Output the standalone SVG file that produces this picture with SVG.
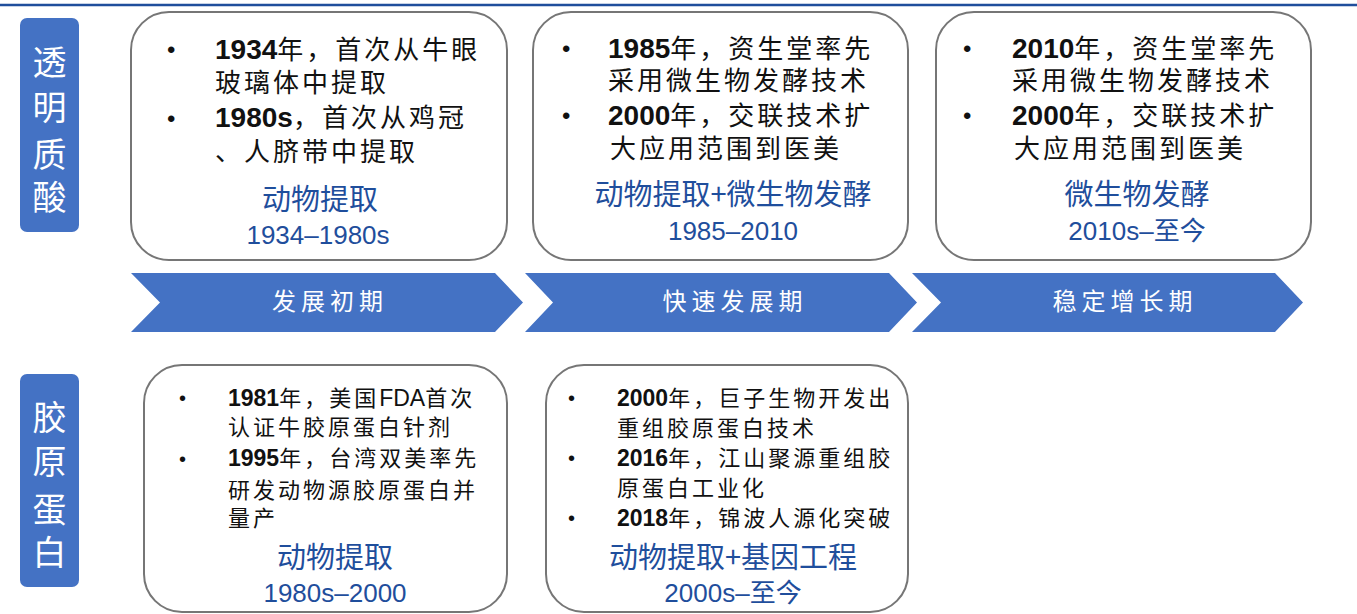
<svg xmlns="http://www.w3.org/2000/svg" width="1357" height="614" viewBox="0 0 1357 614">
<style>
.card{fill:#fff;stroke:#767676;stroke-width:2}
.lbl{fill:#4472c4}
.lt{font-family:"Noto Sans CJK SC","Noto Sans",sans-serif;font-size:34px;fill:#fff;text-anchor:middle}
.chev{fill:#4472c4}
.ct{font-family:"Noto Sans CJK SC",sans-serif;font-size:24px;fill:#fff;text-anchor:middle;letter-spacing:5px}
.t1{font-family:"Noto Sans CJK SC","Liberation Sans",sans-serif;font-size:26px;fill:#111;letter-spacing:3px}
.t2{font-family:"Noto Sans CJK SC","Liberation Sans",sans-serif;font-size:22px;fill:#111;letter-spacing:3px}
.n{font-family:"Liberation Sans",Arial,sans-serif;font-weight:bold;letter-spacing:0}
.s{font-family:"Liberation Sans",Arial,sans-serif;letter-spacing:0}
.b{font-family:"Liberation Sans",Arial,sans-serif;fill:#111}
.bl{font-family:"Noto Sans CJK SC","Liberation Sans",sans-serif;font-size:29px;fill:#1f4e9c;text-anchor:middle}
.by{font-family:"Liberation Sans","Noto Sans CJK SC",sans-serif;font-size:26px;fill:#1f4e9c;text-anchor:middle}
</style>
<line x1="0" y1="5" x2="1357" y2="5" stroke="#1f4e9c" stroke-width="2.5"/>

<g id="label-ha">
<rect class="lbl" x="20" y="18" width="59" height="214" rx="7"/>
<text class="lt" x="49.5" y="75">透</text>
<text class="lt" x="49.5" y="120">明</text>
<text class="lt" x="49.5" y="167">质</text>
<text class="lt" x="49.5" y="210">酸</text>
</g>
<g id="label-col">
<rect class="lbl" x="20" y="374" width="59" height="213" rx="7"/>
<text class="lt" x="49.5" y="430">胶</text>
<text class="lt" x="49.5" y="474">原</text>
<text class="lt" x="49.5" y="522">蛋</text>
<text class="lt" x="49.5" y="565">白</text>
</g>

<g id="card-ha-1">
<rect class="card" x="131" y="12" width="376" height="248" rx="38"/>
<text class="b" x="167" y="58" font-size="24">•</text>
<text class="t1" x="215" y="59"><tspan class="n" font-size="28">1934</tspan>年，首次从牛眼</text>
<text class="t1" x="215" y="92">玻璃体中提取</text>
<text class="b" x="167" y="127" font-size="24">•</text>
<text class="t1" x="215" y="127"><tspan class="n" font-size="28">1980s</tspan>，首次从鸡冠</text>
<text class="t1" x="215" y="161">、人脐带中提取</text>
<text class="bl" x="320" y="210">动物提取</text>
<text class="by" x="318" y="244">1934–1980s</text>
</g>

<g id="card-ha-2">
<rect class="card" x="533" y="12" width="375" height="248" rx="38"/>
<text class="b" x="562" y="57" font-size="24">•</text>
<text class="t1" x="608" y="58"><tspan class="n" font-size="28">1985</tspan>年，资生堂率先</text>
<text class="t1" x="608" y="90">采用微生物发酵技术</text>
<text class="b" x="562" y="124" font-size="24">•</text>
<text class="t1" x="608" y="125"><tspan class="n" font-size="28">2000</tspan>年，交联技术扩</text>
<text class="t1" x="610" y="158">大应用范围到医美</text>
<text class="bl" x="733" y="205">动物提取+微生物发酵</text>
<text class="by" x="733" y="240">1985–2010</text>
</g>

<g id="card-ha-3">
<rect class="card" x="936" y="12" width="375" height="248" rx="38"/>
<text class="b" x="963" y="57" font-size="24">•</text>
<text class="t1" x="1012" y="58"><tspan class="n" font-size="28">2010</tspan>年，资生堂率先</text>
<text class="t1" x="1012" y="90">采用微生物发酵技术</text>
<text class="b" x="963" y="124" font-size="24">•</text>
<text class="t1" x="1012" y="125"><tspan class="n" font-size="28">2000</tspan>年，交联技术扩</text>
<text class="t1" x="1014" y="158">大应用范围到医美</text>
<text class="bl" x="1137" y="205">微生物发酵</text>
<text class="by" x="1137" y="240">2010s–至今</text>
</g>

<g id="phases">
<g id="phase-1">
<polygon class="chev" points="131,273 495,273 523,302.5 495,332 131,332 160,302.5"/>
<text class="ct" x="330" y="310">发展初期</text>
</g>
<g id="phase-2">
<polygon class="chev" points="525,273 889,273 917,302.5 889,332 525,332 553,302.5"/>
<text class="ct" x="735" y="310">快速发展期</text>
</g>
<g id="phase-3">
<polygon class="chev" points="912,273 1275,273 1303,302.5 1275,332 912,332 941,302.5"/>
<text class="ct" x="1125" y="310">稳定增长期</text>
</g>
</g>

<g id="card-col-1">
<rect class="card" x="144" y="365" width="363" height="247" rx="38"/>
<text class="b" x="179" y="405" font-size="20">•</text>
<text class="t2" x="228" y="406"><tspan class="n" font-size="23">1981</tspan>年，美国<tspan class="s" font-size="23">FDA</tspan>首次</text>
<text class="t2" x="228" y="435">认证牛胶原蛋白针剂</text>
<text class="b" x="179" y="466" font-size="20">•</text>
<text class="t2" x="228" y="466"><tspan class="n" font-size="23">1995</tspan>年，台湾双美率先</text>
<text class="t2" x="228" y="498">研发动物源胶原蛋白并</text>
<text class="t2" x="228" y="526">量产</text>
<text class="bl" x="335" y="568">动物提取</text>
<text class="by" x="335" y="602">1980s–2000</text>
</g>

<g id="card-col-2">
<rect class="card" x="546" y="365" width="362" height="247" rx="38"/>
<text class="b" x="568" y="405" font-size="20">•</text>
<text class="t2" x="617" y="406"><tspan class="n" font-size="23">2000</tspan>年，巨子生物开发出</text>
<text class="t2" x="617" y="436">重组胶原蛋白技术</text>
<text class="b" x="568" y="465" font-size="20">•</text>
<text class="t2" x="617" y="466"><tspan class="n" font-size="23">2016</tspan>年，江山聚源重组胶</text>
<text class="t2" x="617" y="496">原蛋白工业化</text>
<text class="b" x="568" y="525" font-size="20">•</text>
<text class="t2" x="617" y="526"><tspan class="n" font-size="23">2018</tspan>年，锦波人源化突破</text>
<text class="bl" x="733" y="568">动物提取+基因工程</text>
<text class="by" x="733" y="602">2000s–至今</text>
</g>
</svg>
